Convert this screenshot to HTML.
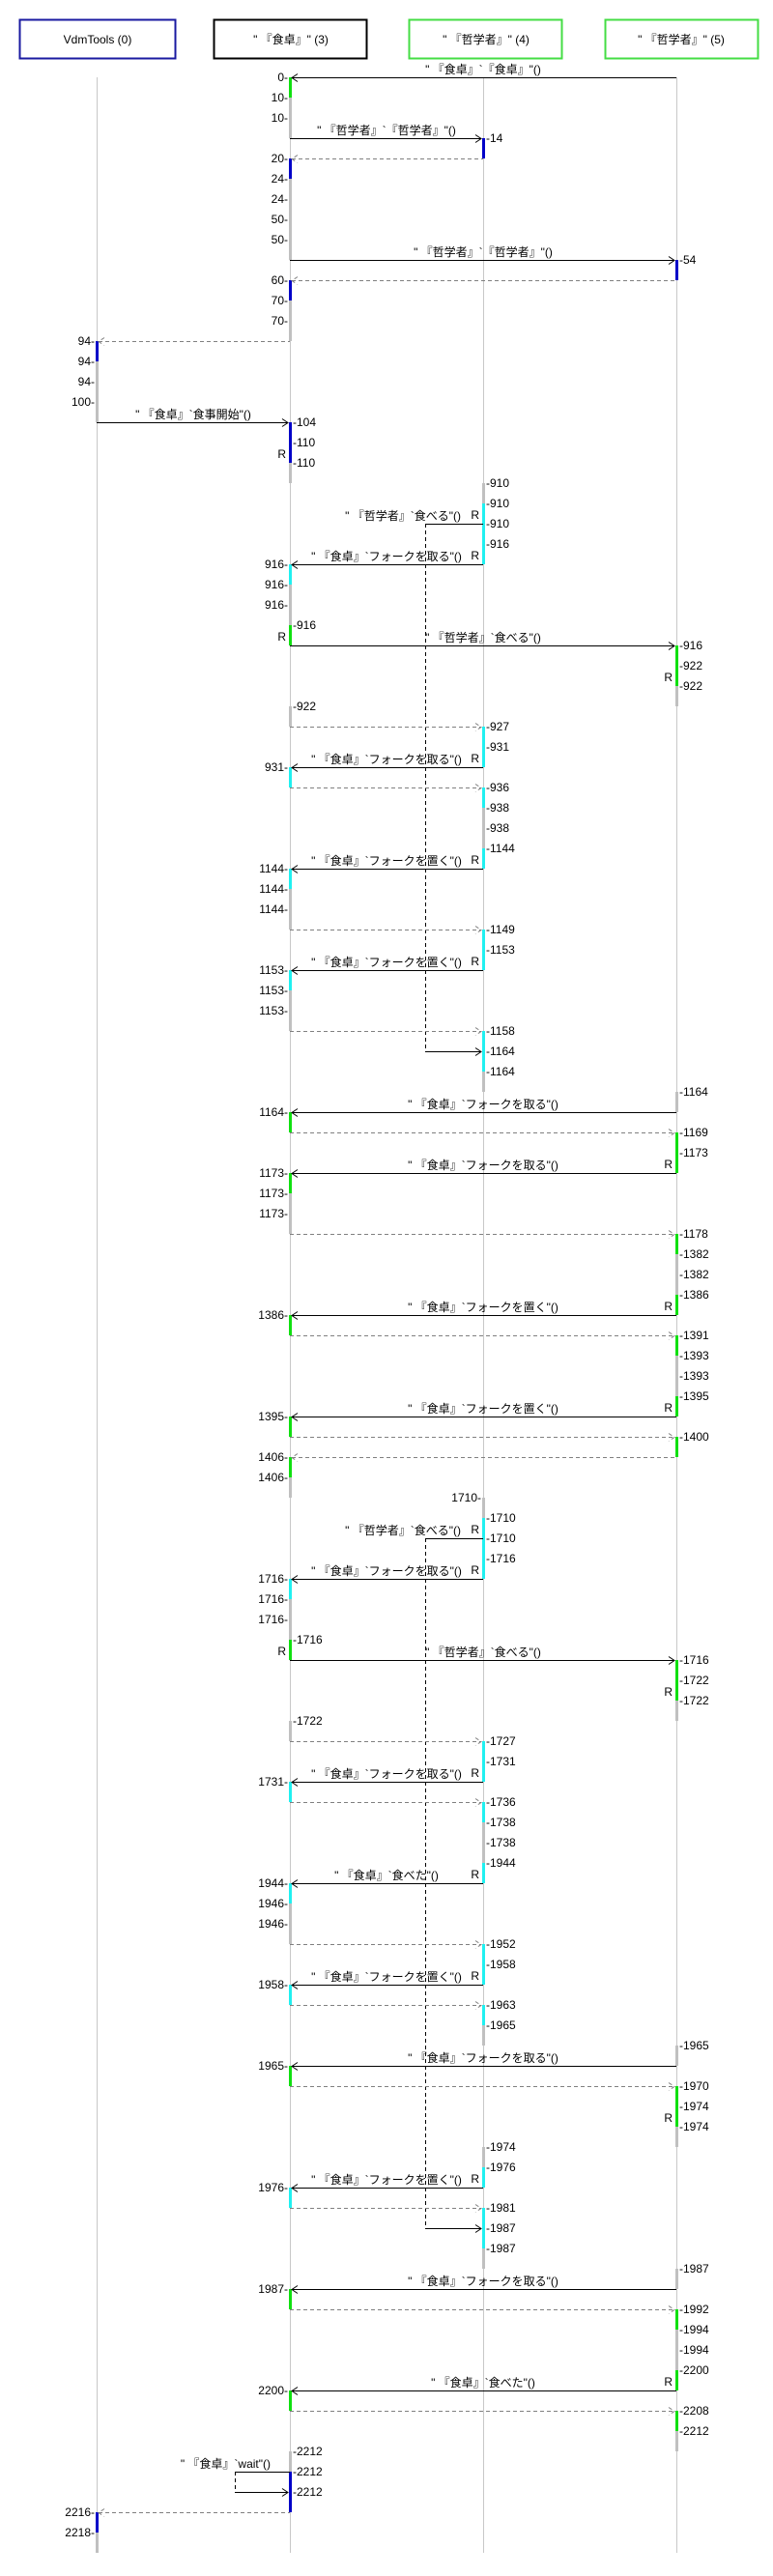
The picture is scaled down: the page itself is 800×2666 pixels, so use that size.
<!DOCTYPE html>
<html><head><meta charset="utf-8"><style>
html,body{margin:0;padding:0;background:#fff}
svg text{font-family:"Liberation Sans","Noto Sans CJK JP",sans-serif;font-size:12px;fill:#000}
.l{stroke:#c8c8c8;stroke-width:1}
.s{stroke:#000;stroke-width:1;fill:none}
.d{stroke:#808080;stroke-width:1;stroke-dasharray:4,3;fill:none}
.dk{stroke:#000;stroke-width:1;stroke-dasharray:4,3;fill:none}
.b{fill:#0000c8}.g{fill:#10e010}.c{fill:#20f0f0}.y{fill:#c0c0c0}
.e{text-anchor:end}.m{text-anchor:middle}
</style></head><body>
<svg width="800" height="2661" xmlns="http://www.w3.org/2000/svg">
<rect x="20.5" y="20.5" width="161" height="40" fill="none" stroke="#1a1aa0" stroke-width="2"/>
<rect x="221.5" y="20.5" width="158" height="40" fill="none" stroke="#000" stroke-width="2"/>
<rect x="423.5" y="20.5" width="158" height="40" fill="none" stroke="#44dd44" stroke-width="2"/>
<rect x="626.5" y="20.5" width="158" height="40" fill="none" stroke="#44dd44" stroke-width="2"/>
<text class="m" x="101" y="45">VdmTools (0)</text>
<text class="m" x="301" y="45">" 『食卓』" (3)</text>
<text class="m" x="503" y="45">" 『哲学者』" (4)</text>
<text class="m" x="705" y="45">" 『哲学者』" (5)</text>
<line class="l" x1="100.5" y1="80" x2="100.5" y2="2642"/>
<line class="l" x1="300.5" y1="80" x2="300.5" y2="2642"/>
<line class="l" x1="500.5" y1="80" x2="500.5" y2="2642"/>
<line class="l" x1="700.5" y1="80" x2="700.5" y2="2642"/>
<rect class="g" x="299" y="80" width="3" height="21"/>
<rect class="y" x="299" y="101" width="3" height="42"/>
<rect class="b" x="299" y="164" width="3" height="21"/>
<rect class="y" x="299" y="185" width="3" height="84"/>
<rect class="b" x="299" y="290" width="3" height="21"/>
<rect class="y" x="299" y="311" width="3" height="42"/>
<rect class="b" x="299" y="437" width="3" height="42"/>
<rect class="y" x="299" y="479" width="3" height="21"/>
<rect class="c" x="299" y="584" width="3" height="21"/>
<rect class="y" x="299" y="605" width="3" height="42"/>
<rect class="g" x="299" y="647" width="3" height="21"/>
<rect class="y" x="299" y="731" width="3" height="21"/>
<rect class="c" x="299" y="794" width="3" height="21"/>
<rect class="c" x="299" y="899" width="3" height="21"/>
<rect class="y" x="299" y="920" width="3" height="42"/>
<rect class="c" x="299" y="1004" width="3" height="21"/>
<rect class="y" x="299" y="1025" width="3" height="42"/>
<rect class="g" x="299" y="1151" width="3" height="21"/>
<rect class="g" x="299" y="1214" width="3" height="21"/>
<rect class="y" x="299" y="1235" width="3" height="42"/>
<rect class="g" x="299" y="1361" width="3" height="21"/>
<rect class="g" x="299" y="1466" width="3" height="21"/>
<rect class="g" x="299" y="1508" width="3" height="21"/>
<rect class="y" x="299" y="1529" width="3" height="21"/>
<rect class="c" x="299" y="1634" width="3" height="21"/>
<rect class="y" x="299" y="1655" width="3" height="42"/>
<rect class="g" x="299" y="1697" width="3" height="21"/>
<rect class="y" x="299" y="1781" width="3" height="21"/>
<rect class="c" x="299" y="1844" width="3" height="21"/>
<rect class="c" x="299" y="1949" width="3" height="21"/>
<rect class="y" x="299" y="1970" width="3" height="42"/>
<rect class="c" x="299" y="2054" width="3" height="21"/>
<rect class="g" x="299" y="2138" width="3" height="21"/>
<rect class="c" x="299" y="2264" width="3" height="21"/>
<rect class="g" x="299" y="2369" width="3" height="21"/>
<rect class="g" x="299" y="2474" width="3" height="21"/>
<rect class="y" x="299" y="2537" width="3" height="21"/>
<rect class="b" x="299" y="2558" width="3" height="42"/>
<rect class="b" x="99" y="353" width="3" height="21"/>
<rect class="y" x="99" y="374" width="3" height="63"/>
<rect class="b" x="99" y="2600" width="3" height="21"/>
<rect class="y" x="99" y="2621" width="3" height="21"/>
<rect class="b" x="499" y="143" width="3" height="21"/>
<rect class="y" x="499" y="500" width="3" height="21"/>
<rect class="c" x="499" y="521" width="3" height="63"/>
<rect class="c" x="499" y="752" width="3" height="42"/>
<rect class="c" x="499" y="815" width="3" height="21"/>
<rect class="y" x="499" y="836" width="3" height="42"/>
<rect class="c" x="499" y="878" width="3" height="21"/>
<rect class="c" x="499" y="962" width="3" height="42"/>
<rect class="c" x="499" y="1067" width="3" height="42"/>
<rect class="y" x="499" y="1109" width="3" height="21"/>
<rect class="y" x="499" y="1550" width="3" height="21"/>
<rect class="c" x="499" y="1571" width="3" height="63"/>
<rect class="c" x="499" y="1802" width="3" height="42"/>
<rect class="c" x="499" y="1865" width="3" height="21"/>
<rect class="y" x="499" y="1886" width="3" height="42"/>
<rect class="c" x="499" y="1928" width="3" height="21"/>
<rect class="c" x="499" y="2012" width="3" height="42"/>
<rect class="c" x="499" y="2075" width="3" height="21"/>
<rect class="y" x="499" y="2096" width="3" height="21"/>
<rect class="y" x="499" y="2222" width="3" height="21"/>
<rect class="c" x="499" y="2243" width="3" height="21"/>
<rect class="c" x="499" y="2285" width="3" height="42"/>
<rect class="y" x="499" y="2327" width="3" height="21"/>
<rect class="b" x="699" y="269" width="3" height="21"/>
<rect class="g" x="699" y="668" width="3" height="42"/>
<rect class="y" x="699" y="710" width="3" height="21"/>
<rect class="y" x="699" y="1130" width="3" height="21"/>
<rect class="g" x="699" y="1172" width="3" height="42"/>
<rect class="g" x="699" y="1277" width="3" height="21"/>
<rect class="y" x="699" y="1298" width="3" height="42"/>
<rect class="g" x="699" y="1340" width="3" height="21"/>
<rect class="g" x="699" y="1382" width="3" height="21"/>
<rect class="y" x="699" y="1403" width="3" height="42"/>
<rect class="g" x="699" y="1445" width="3" height="21"/>
<rect class="g" x="699" y="1487" width="3" height="21"/>
<rect class="g" x="699" y="1718" width="3" height="42"/>
<rect class="y" x="699" y="1760" width="3" height="21"/>
<rect class="y" x="699" y="2117" width="3" height="21"/>
<rect class="g" x="699" y="2159" width="3" height="42"/>
<rect class="y" x="699" y="2201" width="3" height="21"/>
<rect class="y" x="699" y="2348" width="3" height="21"/>
<rect class="g" x="699" y="2390" width="3" height="21"/>
<rect class="y" x="699" y="2411" width="3" height="42"/>
<rect class="g" x="699" y="2453" width="3" height="21"/>
<rect class="g" x="699" y="2495" width="3" height="21"/>
<rect class="y" x="699" y="2516" width="3" height="21"/>

<line class="dk" x1="440.5" y1="542" x2="440.5" y2="1088"/>
<line class="dk" x1="440.5" y1="1592" x2="440.5" y2="2306"/>
<line class="dk" x1="243.5" y1="2558" x2="243.5" y2="2579"/>

<g class="s">
<line x1="302" y1="80.5" x2="700" y2="80.5"/><polyline points="308,76.5 302,80.5 308,84.5"/>
<line x1="300" y1="143.5" x2="498" y2="143.5"/><polyline points="492,139.5 498,143.5 492,147.5"/>
<line x1="300" y1="269.5" x2="698" y2="269.5"/><polyline points="692,265.5 698,269.5 692,273.5"/>
<line x1="100" y1="437.5" x2="298" y2="437.5"/><polyline points="292,433.5 298,437.5 292,441.5"/>
<line x1="440" y1="542.5" x2="500" y2="542.5"/>
<line x1="302" y1="584.5" x2="500" y2="584.5"/><polyline points="308,580.5 302,584.5 308,588.5"/>
<line x1="300" y1="668.5" x2="698" y2="668.5"/><polyline points="692,664.5 698,668.5 692,672.5"/>
<line x1="302" y1="794.5" x2="500" y2="794.5"/><polyline points="308,790.5 302,794.5 308,798.5"/>
<line x1="302" y1="899.5" x2="500" y2="899.5"/><polyline points="308,895.5 302,899.5 308,903.5"/>
<line x1="302" y1="1004.5" x2="500" y2="1004.5"/><polyline points="308,1000.5 302,1004.5 308,1008.5"/>
<line x1="440" y1="1088.5" x2="498" y2="1088.5"/><polyline points="492,1084.5 498,1088.5 492,1092.5"/>
<line x1="302" y1="1151.5" x2="700" y2="1151.5"/><polyline points="308,1147.5 302,1151.5 308,1155.5"/>
<line x1="302" y1="1214.5" x2="700" y2="1214.5"/><polyline points="308,1210.5 302,1214.5 308,1218.5"/>
<line x1="302" y1="1361.5" x2="700" y2="1361.5"/><polyline points="308,1357.5 302,1361.5 308,1365.5"/>
<line x1="302" y1="1466.5" x2="700" y2="1466.5"/><polyline points="308,1462.5 302,1466.5 308,1470.5"/>
<line x1="440" y1="1592.5" x2="500" y2="1592.5"/>
<line x1="302" y1="1634.5" x2="500" y2="1634.5"/><polyline points="308,1630.5 302,1634.5 308,1638.5"/>
<line x1="300" y1="1718.5" x2="698" y2="1718.5"/><polyline points="692,1714.5 698,1718.5 692,1722.5"/>
<line x1="302" y1="1844.5" x2="500" y2="1844.5"/><polyline points="308,1840.5 302,1844.5 308,1848.5"/>
<line x1="302" y1="1949.5" x2="500" y2="1949.5"/><polyline points="308,1945.5 302,1949.5 308,1953.5"/>
<line x1="302" y1="2054.5" x2="500" y2="2054.5"/><polyline points="308,2050.5 302,2054.5 308,2058.5"/>
<line x1="302" y1="2138.5" x2="700" y2="2138.5"/><polyline points="308,2134.5 302,2138.5 308,2142.5"/>
<line x1="302" y1="2264.5" x2="500" y2="2264.5"/><polyline points="308,2260.5 302,2264.5 308,2268.5"/>
<line x1="440" y1="2306.5" x2="498" y2="2306.5"/><polyline points="492,2302.5 498,2306.5 492,2310.5"/>
<line x1="302" y1="2369.5" x2="700" y2="2369.5"/><polyline points="308,2365.5 302,2369.5 308,2373.5"/>
<line x1="302" y1="2474.5" x2="700" y2="2474.5"/><polyline points="308,2470.5 302,2474.5 308,2478.5"/>
<line x1="243" y1="2558.5" x2="300" y2="2558.5"/>
<line x1="243" y1="2579.5" x2="298" y2="2579.5"/><polyline points="292,2575.5 298,2579.5 292,2583.5"/>
</g>
<g class="d">
<line x1="302" y1="164.5" x2="500" y2="164.5"/><polyline points="308,160.5 302,164.5 308,168.5"/>
<line x1="302" y1="290.5" x2="700" y2="290.5"/><polyline points="308,286.5 302,290.5 308,294.5"/>
<line x1="102" y1="353.5" x2="300" y2="353.5"/><polyline points="108,349.5 102,353.5 108,357.5"/>
<line x1="300" y1="752.5" x2="498" y2="752.5"/><polyline points="492,748.5 498,752.5 492,756.5"/>
<line x1="300" y1="815.5" x2="498" y2="815.5"/><polyline points="492,811.5 498,815.5 492,819.5"/>
<line x1="300" y1="962.5" x2="498" y2="962.5"/><polyline points="492,958.5 498,962.5 492,966.5"/>
<line x1="300" y1="1067.5" x2="498" y2="1067.5"/><polyline points="492,1063.5 498,1067.5 492,1071.5"/>
<line x1="300" y1="1172.5" x2="698" y2="1172.5"/><polyline points="692,1168.5 698,1172.5 692,1176.5"/>
<line x1="300" y1="1277.5" x2="698" y2="1277.5"/><polyline points="692,1273.5 698,1277.5 692,1281.5"/>
<line x1="300" y1="1382.5" x2="698" y2="1382.5"/><polyline points="692,1378.5 698,1382.5 692,1386.5"/>
<line x1="300" y1="1487.5" x2="698" y2="1487.5"/><polyline points="692,1483.5 698,1487.5 692,1491.5"/>
<line x1="302" y1="1508.5" x2="700" y2="1508.5"/><polyline points="308,1504.5 302,1508.5 308,1512.5"/>
<line x1="300" y1="1802.5" x2="498" y2="1802.5"/><polyline points="492,1798.5 498,1802.5 492,1806.5"/>
<line x1="300" y1="1865.5" x2="498" y2="1865.5"/><polyline points="492,1861.5 498,1865.5 492,1869.5"/>
<line x1="300" y1="2012.5" x2="498" y2="2012.5"/><polyline points="492,2008.5 498,2012.5 492,2016.5"/>
<line x1="300" y1="2075.5" x2="498" y2="2075.5"/><polyline points="492,2071.5 498,2075.5 492,2079.5"/>
<line x1="300" y1="2159.5" x2="698" y2="2159.5"/><polyline points="692,2155.5 698,2159.5 692,2163.5"/>
<line x1="300" y1="2285.5" x2="498" y2="2285.5"/><polyline points="492,2281.5 498,2285.5 492,2289.5"/>
<line x1="300" y1="2390.5" x2="698" y2="2390.5"/><polyline points="692,2386.5 698,2390.5 692,2394.5"/>
<line x1="300" y1="2495.5" x2="698" y2="2495.5"/><polyline points="692,2491.5 698,2495.5 692,2499.5"/>
<line x1="102" y1="2600.5" x2="300" y2="2600.5"/><polyline points="108,2596.5 102,2600.5 108,2604.5"/>
</g>

<text class="m" x="500" y="76">" 『食卓』`『食卓』"()</text>
<text class="m" x="400" y="139">" 『哲学者』`『哲学者』"()</text>
<text class="m" x="500" y="265">" 『哲学者』`『哲学者』"()</text>
<text class="m" x="200" y="433">" 『食卓』`食事開始"()</text>
<text class="e" x="477" y="538">" 『哲学者』`食べる"()</text>
<text class="m" x="400" y="580">" 『食卓』`フォークを取る"()</text>
<text class="m" x="500" y="664">" 『哲学者』`食べる"()</text>
<text class="m" x="400" y="790">" 『食卓』`フォークを取る"()</text>
<text class="m" x="400" y="895">" 『食卓』`フォークを置く"()</text>
<text class="m" x="400" y="1000">" 『食卓』`フォークを置く"()</text>
<text class="m" x="500" y="1147">" 『食卓』`フォークを取る"()</text>
<text class="m" x="500" y="1210">" 『食卓』`フォークを取る"()</text>
<text class="m" x="500" y="1357">" 『食卓』`フォークを置く"()</text>
<text class="m" x="500" y="1462">" 『食卓』`フォークを置く"()</text>
<text class="e" x="477" y="1588">" 『哲学者』`食べる"()</text>
<text class="m" x="400" y="1630">" 『食卓』`フォークを取る"()</text>
<text class="m" x="500" y="1714">" 『哲学者』`食べる"()</text>
<text class="m" x="400" y="1840">" 『食卓』`フォークを取る"()</text>
<text class="m" x="400" y="1945">" 『食卓』`食べた"()</text>
<text class="m" x="400" y="2050">" 『食卓』`フォークを置く"()</text>
<text class="m" x="500" y="2134">" 『食卓』`フォークを取る"()</text>
<text class="m" x="400" y="2260">" 『食卓』`フォークを置く"()</text>
<text class="m" x="500" y="2365">" 『食卓』`フォークを取る"()</text>
<text class="m" x="500" y="2470">" 『食卓』`食べた"()</text>
<text class="e" x="280" y="2554">" 『食卓』`wait"()</text>

<text class="e" x="296" y="474">R</text>
<text class="e" x="296" y="663">R</text>
<text class="e" x="296" y="1713">R</text>
<text class="e" x="496" y="537">R</text>
<text class="e" x="496" y="579">R</text>
<text class="e" x="496" y="789">R</text>
<text class="e" x="496" y="894">R</text>
<text class="e" x="496" y="999">R</text>
<text class="e" x="496" y="1587">R</text>
<text class="e" x="496" y="1629">R</text>
<text class="e" x="496" y="1839">R</text>
<text class="e" x="496" y="1944">R</text>
<text class="e" x="496" y="2049">R</text>
<text class="e" x="496" y="2259">R</text>
<text class="e" x="696" y="705">R</text>
<text class="e" x="696" y="1209">R</text>
<text class="e" x="696" y="1356">R</text>
<text class="e" x="696" y="1461">R</text>
<text class="e" x="696" y="1755">R</text>
<text class="e" x="696" y="2196">R</text>
<text class="e" x="696" y="2469">R</text>

<g>
<text class="e" x="298" y="84">0-</text><text class="e" x="298" y="105">10-</text><text class="e" x="298" y="126">10-</text>
<text class="e" x="298" y="168">20-</text><text class="e" x="298" y="189">24-</text><text class="e" x="298" y="210">24-</text>
<text class="e" x="298" y="231">50-</text><text class="e" x="298" y="252">50-</text><text class="e" x="298" y="294">60-</text>
<text class="e" x="298" y="315">70-</text><text class="e" x="298" y="336">70-</text>
<text class="e" x="298" y="588">916-</text><text class="e" x="298" y="609">916-</text><text class="e" x="298" y="630">916-</text>
<text class="e" x="298" y="798">931-</text>
<text class="e" x="298" y="903">1144-</text><text class="e" x="298" y="924">1144-</text><text class="e" x="298" y="945">1144-</text>
<text class="e" x="298" y="1008">1153-</text><text class="e" x="298" y="1029">1153-</text><text class="e" x="298" y="1050">1153-</text>
<text class="e" x="298" y="1155">1164-</text>
<text class="e" x="298" y="1218">1173-</text><text class="e" x="298" y="1239">1173-</text><text class="e" x="298" y="1260">1173-</text>
<text class="e" x="298" y="1365">1386-</text><text class="e" x="298" y="1470">1395-</text>
<text class="e" x="298" y="1512">1406-</text><text class="e" x="298" y="1533">1406-</text>
<text class="e" x="298" y="1638">1716-</text><text class="e" x="298" y="1659">1716-</text><text class="e" x="298" y="1680">1716-</text>
<text class="e" x="298" y="1848">1731-</text>
<text class="e" x="298" y="1953">1944-</text><text class="e" x="298" y="1974">1946-</text><text class="e" x="298" y="1995">1946-</text>
<text class="e" x="298" y="2058">1958-</text><text class="e" x="298" y="2142">1965-</text><text class="e" x="298" y="2268">1976-</text>
<text class="e" x="298" y="2373">1987-</text><text class="e" x="298" y="2478">2200-</text>
<text class="e" x="98" y="357">94-</text><text class="e" x="98" y="378">94-</text><text class="e" x="98" y="399">94-</text><text class="e" x="98" y="420">100-</text>
<text class="e" x="98" y="2604">2216-</text><text class="e" x="98" y="2625">2218-</text>
<text class="e" x="498" y="1554">1710-</text>
</g>
<g>
<text x="303" y="441">-104</text><text x="303" y="462">-110</text><text x="303" y="483">-110</text>
<text x="303" y="651">-916</text><text x="303" y="735">-922</text><text x="303" y="1701">-1716</text><text x="303" y="1785">-1722</text>
<text x="303" y="2541">-2212</text><text x="303" y="2562">-2212</text><text x="303" y="2583">-2212</text>
<text x="503" y="147">-14</text>
<text x="503" y="504">-910</text><text x="503" y="525">-910</text><text x="503" y="546">-910</text><text x="503" y="567">-916</text>
<text x="503" y="756">-927</text><text x="503" y="777">-931</text><text x="503" y="819">-936</text><text x="503" y="840">-938</text><text x="503" y="861">-938</text><text x="503" y="882">-1144</text>
<text x="503" y="966">-1149</text><text x="503" y="987">-1153</text>
<text x="503" y="1071">-1158</text><text x="503" y="1092">-1164</text><text x="503" y="1113">-1164</text>
<text x="503" y="1575">-1710</text><text x="503" y="1596">-1710</text><text x="503" y="1617">-1716</text>
<text x="503" y="1806">-1727</text><text x="503" y="1827">-1731</text><text x="503" y="1869">-1736</text><text x="503" y="1890">-1738</text><text x="503" y="1911">-1738</text><text x="503" y="1932">-1944</text>
<text x="503" y="2016">-1952</text><text x="503" y="2037">-1958</text><text x="503" y="2079">-1963</text><text x="503" y="2100">-1965</text>
<text x="503" y="2226">-1974</text><text x="503" y="2247">-1976</text><text x="503" y="2289">-1981</text><text x="503" y="2310">-1987</text><text x="503" y="2331">-1987</text>
<text x="703" y="273">-54</text>
<text x="703" y="672">-916</text><text x="703" y="693">-922</text><text x="703" y="714">-922</text>
<text x="703" y="1134">-1164</text><text x="703" y="1176">-1169</text><text x="703" y="1197">-1173</text>
<text x="703" y="1281">-1178</text><text x="703" y="1302">-1382</text><text x="703" y="1323">-1382</text><text x="703" y="1344">-1386</text>
<text x="703" y="1386">-1391</text><text x="703" y="1407">-1393</text><text x="703" y="1428">-1393</text><text x="703" y="1449">-1395</text>
<text x="703" y="1491">-1400</text>
<text x="703" y="1722">-1716</text><text x="703" y="1743">-1722</text><text x="703" y="1764">-1722</text>
<text x="703" y="2121">-1965</text><text x="703" y="2163">-1970</text><text x="703" y="2184">-1974</text><text x="703" y="2205">-1974</text>
<text x="703" y="2352">-1987</text><text x="703" y="2394">-1992</text><text x="703" y="2415">-1994</text><text x="703" y="2436">-1994</text><text x="703" y="2457">-2200</text>
<text x="703" y="2499">-2208</text><text x="703" y="2520">-2212</text>
</g>
</svg>
</body></html>
